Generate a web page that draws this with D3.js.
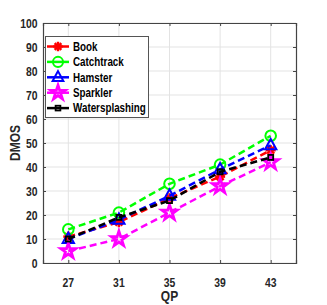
<!DOCTYPE html>
<html><head><meta charset="utf-8">
<script src="https://cdn.jsdelivr.net/npm/d3@7"></script>
<style>body{margin:0;background:#fff}svg{display:block}</style>
</head><body>
<script>
const qp = [27, 31, 35, 39, 43];
const yTicks = [0,10,20,30,40,50,60,70,80,90,100];
const seriesNames = ["Book","Catchtrack","Hamster","Sparkler","Watersplashing"];
const book = [11, 17, 27, 36, 47];
const catchtrack = [14, 21, 33, 41, 53];
const hamster = [10, 18, 28, 39, 49];
const sparkler = [5, 10, 21, 32, 42];
const watersplashing = [10, 19, 26, 38, 44];
const colors = ["#ff0000","#00ff00","#0000ff","#ff00ff","#000000"];
const markers = ["asterisk","circle","triangle","star","square"];
const values = [book, catchtrack, hamster, sparkler, watersplashing];

const W = 327, H = 305;
const m = {l: 43, r: 31, t: 23, b: 42};
const FONT = "'Liberation Sans',Arial,sans-serif";
const SX = 0.8;
const svg = d3.select("body").append("svg").attr("width", W).attr("height", H);
const x = d3.scaleLinear().domain([25,45]).range([m.l, W - m.r]);
const y = d3.scaleLinear().domain([0,100]).range([H - m.b, m.t]);

function label(g, tx, ty, str, size, anchor, rot) {
  return g.append("text")
    .attr("transform", `translate(${tx},${ty})` + (rot ? ` rotate(${rot})` : "") + ` scale(${SX},1)`)
    .attr("text-anchor", anchor).attr("font-family", FONT).attr("font-weight", "bold")
    .attr("font-size", size + "px").attr("fill", "#262626").text(str);
}

// grid
svg.append("g").selectAll("line").data(yTicks).join("line")
  .attr("x1", m.l).attr("x2", W - m.r).attr("y1", d=>y(d)).attr("y2", d=>y(d))
  .attr("stroke", "#e3e3e3").attr("stroke-width", 1);
svg.append("g").selectAll("line").data(qp).join("line")
  .attr("y1", m.t).attr("y2", H - m.b).attr("x1", d=>x(d)).attr("x2", d=>x(d))
  .attr("stroke", "#e3e3e3").attr("stroke-width", 1);

// axes
const axL = svg.append("g").attr("transform", `translate(${m.l},0)`)
  .call(d3.axisLeft(y).tickValues(yTicks).tickSize(-3).tickFormat(""));
const axR = svg.append("g").attr("transform", `translate(${W-m.r},0)`)
  .call(d3.axisRight(y).tickValues(yTicks).tickSize(-3).tickFormat(""));
const axB = svg.append("g").attr("transform", `translate(0,${H-m.b})`)
  .call(d3.axisBottom(x).tickValues(qp).tickSize(-3).tickFormat(""));
const axT = svg.append("g").attr("transform", `translate(0,${m.t})`)
  .call(d3.axisTop(x).tickValues(qp).tickSize(-3).tickFormat(""));
[axL,axR,axB,axT].forEach(a=>{
  a.select(".domain").attr("stroke","#444").attr("stroke-width",1.2);
  a.selectAll(".tick line").attr("stroke","#444");
});
// tick labels
const tl = svg.append("g");
yTicks.forEach(t => label(tl, 37.5, y(t) + 4.7, String(t), 13, "end"));
qp.forEach(t => label(tl, x(t), 286.5, String(t), 13, "middle"));

// axis labels
label(svg, x(35), 300.5, "QP", 15, "middle");
label(svg, 20, y(50), "DMOS", 15, "middle", -90);

function drawMarker(g, type, color, cx, cy, s) {
  if (type === "circle") {
    g.append("circle").attr("cx",cx).attr("cy",cy).attr("r",5.3*s)
      .attr("fill","none").attr("stroke",color).attr("stroke-width",2);
  } else if (type === "triangle") {
    const r = 6.5*s;
    g.append("path").attr("d", d3.line()([[cx,cy-r],[cx+r*0.87,cy+r*0.6],[cx-r*0.87,cy+r*0.6]]) + "Z")
      .attr("fill","none").attr("stroke",color).attr("stroke-width",2);
  } else if (type === "square") {
    const r = 2.5*s;
    g.append("rect").attr("x",cx-r).attr("y",cy-r).attr("width",2*r).attr("height",2*r)
      .attr("fill","none").attr("stroke",color).attr("stroke-width",1.8);
  } else if (type === "star") {
    g.append("path").attr("transform",`translate(${cx},${cy})`)
      .attr("d", d3.symbol(d3.symbolStar, 70*s*s)())
      .attr("fill","none").attr("stroke",color).attr("stroke-width",2.8);
  } else if (type === "asterisk") {
    const r = 5*s;
    const gg = g.append("g").attr("stroke",color).attr("stroke-width",2.5);
    gg.append("line").attr("x1",cx-r).attr("x2",cx+r).attr("y1",cy).attr("y2",cy);
    gg.append("line").attr("x1",cx).attr("x2",cx).attr("y1",cy-r).attr("y2",cy+r);
    gg.append("line").attr("x1",cx-r*0.7).attr("x2",cx+r*0.7).attr("y1",cy-r*0.7).attr("y2",cy+r*0.7);
    gg.append("line").attr("x1",cx-r*0.7).attr("x2",cx+r*0.7).attr("y1",cy+r*0.7).attr("y2",cy-r*0.7);
  }
}

const line = d3.line().x((d,i)=>x(qp[i])).y(d=>y(d));
const plot = svg.append("g");
values.forEach((vals, k) => {
  plot.append("path").datum(vals).attr("d", line).attr("fill","none")
    .attr("stroke", colors[k]).attr("stroke-width", 2.5).attr("stroke-dasharray","7,4");
  vals.forEach((v,i)=> drawMarker(plot, markers[k], colors[k], x(qp[i]), y(v), 1));
});

// legend
const lg = svg.append("g");
lg.append("rect").attr("x",45.5).attr("y",36.5).attr("width",103).attr("height",81)
  .attr("fill","#fff").attr("stroke","#555").attr("stroke-width",1);
seriesNames.forEach((name,k)=>{
  const ly = 46.5 + k*15.4;
  lg.append("line").attr("x1",47).attr("x2",69).attr("y1",ly).attr("y2",ly)
    .attr("stroke",colors[k]).attr("stroke-width",2.5);
  drawMarker(lg, markers[k], colors[k], 58, ly, 0.95);
  label(lg, 73, ly + 4.2, name, 12.3, "start").attr("fill", "#000");
});
</script>
</body></html>
